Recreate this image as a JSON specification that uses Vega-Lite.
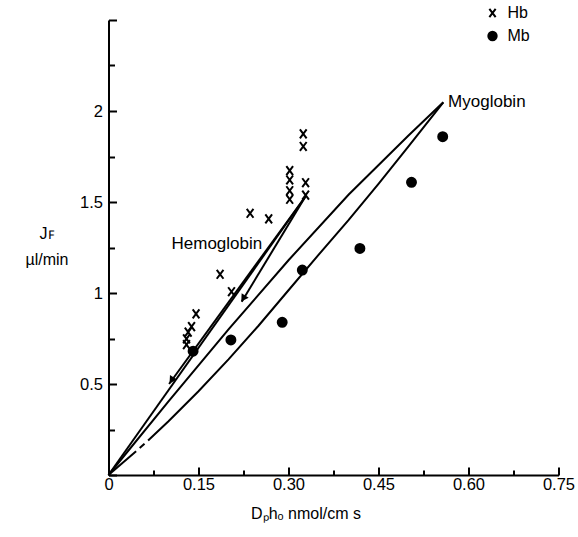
{
  "$schema": "https://vega.github.io/schema/vega-lite/v6.json",
  "width": 450,
  "height": 455,
  "autosize": {"type": "none"},
  "padding": {"left": 108.5, "top": 20, "right": 19.5, "bottom": 62},
  "background": "white",
  "config": {"view": {"stroke": null}, "font": "Liberation Sans"},
  "datasets": {
    "points": [
      {"x": 0.1459, "y": 0.885, "type": "Hb"},
      {"x": 0.1384, "y": 0.815, "type": "Hb"},
      {"x": 0.1328, "y": 0.785, "type": "Hb"},
      {"x": 0.130, "y": 0.748, "type": "Hb"},
      {"x": 0.130, "y": 0.716, "type": "Hb"},
      {"x": 0.186, "y": 1.103, "type": "Hb"},
      {"x": 0.205, "y": 1.007, "type": "Hb"},
      {"x": 0.236, "y": 1.438, "type": "Hb"},
      {"x": 0.267, "y": 1.407, "type": "Hb"},
      {"x": 0.302, "y": 1.672, "type": "Hb"},
      {"x": 0.302, "y": 1.621, "type": "Hb"},
      {"x": 0.302, "y": 1.562, "type": "Hb"},
      {"x": 0.302, "y": 1.515, "type": "Hb"},
      {"x": 0.3246, "y": 1.874, "type": "Hb"},
      {"x": 0.3246, "y": 1.805, "type": "Hb"},
      {"x": 0.3285, "y": 1.606, "type": "Hb"},
      {"x": 0.3285, "y": 1.538, "type": "Hb"},
      {"x": 0.141, "y": 0.68, "type": "Mb"},
      {"x": 0.204, "y": 0.742, "type": "Mb"},
      {"x": 0.2895, "y": 0.839, "type": "Mb"},
      {"x": 0.323, "y": 1.126, "type": "Mb"},
      {"x": 0.419, "y": 1.245, "type": "Mb"},
      {"x": 0.505, "y": 1.608, "type": "Mb"},
      {"x": 0.557, "y": 1.859, "type": "Mb"}
    ],
    "curves": [
      {"curve": "HbA", "x": 0, "y": 0},
      {"curve": "HbA", "x": 0.328, "y": 1.529},
      {"curve": "HbLeft", "x": 0.101, "y": 0.50},
      {"curve": "HbLeft", "x": 0.328, "y": 1.529},
      {"curve": "HbRight", "x": 0.222, "y": 0.952},
      {"curve": "HbRight", "x": 0.328, "y": 1.529},
      {"curve": "MbUp", "x": 0, "y": 0},
      {"curve": "MbUp", "x": 0.1, "y": 0.405},
      {"curve": "MbUp", "x": 0.2, "y": 0.80},
      {"curve": "MbUp", "x": 0.3, "y": 1.18},
      {"curve": "MbUp", "x": 0.4, "y": 1.54},
      {"curve": "MbUp", "x": 0.5, "y": 1.865},
      {"curve": "MbUp", "x": 0.558, "y": 2.048},
      {"curve": "MbLow1", "x": 0, "y": 0},
      {"curve": "MbLow1", "x": 0.046, "y": 0.13},
      {"curve": "MbLow2", "x": 0.052, "y": 0.148},
      {"curve": "MbLow2", "x": 0.060, "y": 0.172},
      {"curve": "MbLow3", "x": 0.066, "y": 0.19},
      {"curve": "MbLow3", "x": 0.1, "y": 0.295},
      {"curve": "MbLow3", "x": 0.15, "y": 0.46},
      {"curve": "MbLow3", "x": 0.2, "y": 0.635},
      {"curve": "MbLow3", "x": 0.25, "y": 0.82},
      {"curve": "MbLow3", "x": 0.3, "y": 1.015},
      {"curve": "MbLow3", "x": 0.35, "y": 1.21},
      {"curve": "MbLow3", "x": 0.4, "y": 1.40},
      {"curve": "MbLow3", "x": 0.45, "y": 1.60},
      {"curve": "MbLow3", "x": 0.5, "y": 1.805},
      {"curve": "MbLow3", "x": 0.558, "y": 2.048}
    ],
    "arrows": [
      {"x": 0.105, "y": 0.52},
      {"x": 0.2245, "y": 0.97}
    ],
    "labels": [
      {"x": 0.105, "y": 1.269, "text": "Hemoglobin"},
      {"x": 0.566, "y": 2.051, "text": "Myoglobin"}
    ]
  },
  "encoding": {
    "x": {
      "field": "x", "type": "quantitative",
      "scale": {"domain": [0, 0.75], "nice": false, "zero": false},
      "axis": {
        "title": "Dₚhₒ  nmol/cm s",
        "titleFontSize": 16, "titleFontWeight": "normal", "titleColor": "black",
        "titleX": 197, "titleY": 43, "titleAlign": "center", "titleBaseline": "alphabetic",
        "values": [0, 0.075, 0.15, 0.225, 0.3, 0.375, 0.45, 0.525, 0.6, 0.675, 0.75],
        "labelExpr": "abs(datum.value/0.15 - round(datum.value/0.15)) < 0.001 ? (datum.value == 0 ? '0' : format(datum.value, '.2f')) : ''",
        "labelFlush": false, "labelFontSize": 16.5, "labelColor": "black", "labelPadding": 9,
        "domainColor": "black", "domainWidth": 2,
        "ticks": true, "tickColor": "black", "tickWidth": 2,
        "tickSize": {"condition": {"test": "abs(datum.value/0.15 - round(datum.value/0.15)) < 0.001", "value": -8}, "value": -5},
        "grid": false
      }
    },
    "y": {
      "field": "y", "type": "quantitative",
      "scale": {"domain": [0, 2.5], "nice": false, "zero": false},
      "axis": {
        "title": ["Jꜰ", "µl/min"],
        "titleAngle": 0, "titleFontSize": 16, "titleFontWeight": "normal", "titleColor": "black",
        "titleX": -62, "titleY": 218, "titleAlign": "center", "titleBaseline": "alphabetic", "titleLineHeight": 26,
        "values": [0, 0.25, 0.5, 0.75, 1, 1.25, 1.5, 1.75, 2, 2.25, 2.5],
        "labelExpr": "(datum.value > 0 && datum.value < 2.5 && abs(datum.value/0.5 - round(datum.value/0.5)) < 0.001) ? format(datum.value, '~g') : ''",
        "labelFlush": false, "labelFontSize": 16.5, "labelColor": "black", "labelPadding": 14,
        "domainColor": "black", "domainWidth": 2,
        "ticks": true, "tickColor": "black", "tickWidth": 2,
        "tickSize": {"condition": {"test": "abs(datum.value/0.5 - round(datum.value/0.5)) < 0.001", "value": -8}, "value": -6},
        "grid": false
      }
    }
  },
  "layer": [
    {
      "data": {"name": "curves"},
      "mark": {"type": "line", "color": "black", "strokeWidth": 2, "clip": false},
      "encoding": {
        "detail": {"field": "curve", "type": "nominal"}
      }
    },
    {
      "data": {"name": "points"},
      "mark": {"type": "point", "strokeWidth": 2, "opacity": 1, "size": 80, "clip": false},
      "encoding": {
        "shape": {
          "field": "type", "type": "nominal",
          "scale": {"domain": ["Hb", "Mb"], "range": ["M-0.75,-1L0.75,1M-0.75,1L0.75,-1", "circle"]},
          "legend": {"orient": "none", "legendX": 376, "legendY": -15, "title": null, "labelFontSize": 16, "labelColor": "black", "labelOffset": 7, "rowPadding": 5, "padding": 0, "symbolStrokeWidth": 2, "symbolSize": 70}
        },
        "fill": {
          "field": "type", "type": "nominal",
          "scale": {"domain": ["Hb", "Mb"], "range": ["transparent", "black"]},
          "legend": {"orient": "none", "legendX": 376, "legendY": -15, "title": null, "labelFontSize": 16, "labelColor": "black", "labelOffset": 7, "rowPadding": 5, "padding": 0, "symbolStrokeWidth": 2, "symbolSize": 70}
        },
        "stroke": {
          "field": "type", "type": "nominal",
          "scale": {"domain": ["Hb", "Mb"], "range": ["black", "black"]},
          "legend": {"orient": "none", "legendX": 376, "legendY": -15, "title": null, "labelFontSize": 16, "labelColor": "black", "labelOffset": 7, "rowPadding": 5, "padding": 0, "symbolStrokeWidth": 2, "symbolSize": 70}
        }
      }
    },
    {
      "data": {"name": "arrows"},
      "mark": {"type": "point", "shape": "triangle-up", "angle": 213, "filled": true, "color": "black", "opacity": 1, "size": 70, "clip": false}
    },
    {
      "data": {"name": "labels"},
      "mark": {"type": "text", "align": "left", "baseline": "middle", "fontSize": 17, "color": "black", "clip": false},
      "encoding": {
        "text": {"field": "text", "type": "nominal"}
      }
    }
  ]
}
